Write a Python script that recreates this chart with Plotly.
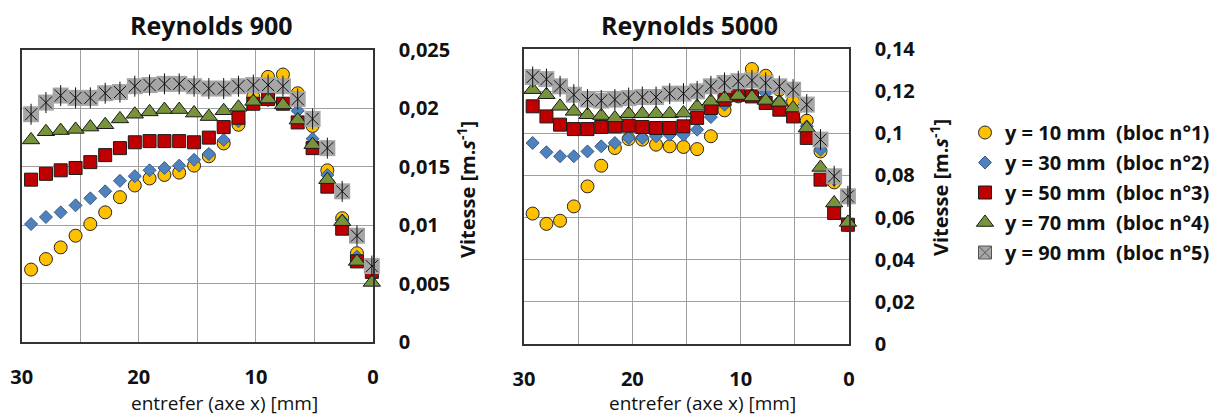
import plotly.graph_objects as go

# ---------------- data ----------------
x_mm = [29.2, 27.93, 26.67, 25.4, 24.14, 22.87, 21.61, 20.34, 19.08, 17.81, 16.55, 15.28,
        14.02, 12.75, 11.49, 10.22, 8.96, 7.69, 6.43, 5.16, 3.9, 2.63, 1.37, 0.1]

series_names = ["y = 10 mm\u00a0\u00a0(bloc n°1)", "y = 30 mm\u00a0\u00a0(bloc n°2)",
                "y = 50 mm\u00a0\u00a0(bloc n°3)", "y = 70 mm\u00a0\u00a0(bloc n°4)",
                "y = 90 mm\u00a0\u00a0(bloc n°5)"]

# Reynolds 900
re900_y10 = [0.0062, 0.0071, 0.0081, 0.0091, 0.0101, 0.0111, 0.0124, 0.0134, 0.0140, 0.0143, 0.0145, 0.0151,
             0.0159, 0.0170, 0.0186, 0.0210, 0.0227, 0.0229, 0.0213, 0.0185, 0.0147, 0.0106, 0.0076, 0.0062]
re900_y30 = [0.0101, 0.0107, 0.0111, 0.0117, 0.0123, 0.0129, 0.0138, 0.0142, 0.0147, 0.0149, 0.0151, 0.0156,
             0.0161, 0.0173, 0.0189, 0.0204, 0.0207, 0.0204, 0.0198, 0.0174, 0.0143, 0.0104, 0.0073, 0.0059]
re900_y50 = [0.0139, 0.0144, 0.0147, 0.0149, 0.0154, 0.0160, 0.0166, 0.0171, 0.0172, 0.0172, 0.0172, 0.0171,
             0.0175, 0.0184, 0.0192, 0.0204, 0.0208, 0.0204, 0.0188, 0.0166, 0.0133, 0.0097, 0.0069, 0.0060]
re900_y70 = [0.0173, 0.0180, 0.0181, 0.0182, 0.0184, 0.0186, 0.0191, 0.0195, 0.0197, 0.0199, 0.0199, 0.0196,
             0.0193, 0.0198, 0.0201, 0.0206, 0.0208, 0.0203, 0.0190, 0.0169, 0.0139, 0.0103, 0.0069, 0.0051]
re900_y90 = [0.0195, 0.0205, 0.0211, 0.0209, 0.0209, 0.0213, 0.0214, 0.0219, 0.0220, 0.0221, 0.0221, 0.0219,
             0.0217, 0.0217, 0.0219, 0.0220, 0.0220, 0.0219, 0.0208, 0.0191, 0.0166, 0.0129, 0.0091, 0.0065]

# Reynolds 5000
re5000_y10 = [0.0619, 0.0570, 0.0585, 0.0653, 0.0748, 0.0846, 0.0930, 0.0973, 0.0970, 0.0946, 0.0938, 0.0935,
              0.0925, 0.0986, 0.1109, 0.1175, 0.1305, 0.1273, 0.1207, 0.1152, 0.1060, 0.0914, 0.0767, 0.0566]
re5000_y30 = [0.0954, 0.0910, 0.0891, 0.0891, 0.0914, 0.0938, 0.0954, 0.0978, 0.0978, 0.0986, 0.0993, 0.0993,
              0.1017, 0.1077, 0.1136, 0.1175, 0.1183, 0.1191, 0.1152, 0.1112, 0.1033, 0.0922, 0.0780, 0.0566]
re5000_y50 = [0.1128, 0.1080, 0.1041, 0.1020, 0.1020, 0.1030, 0.1033, 0.1036, 0.1030, 0.1025, 0.1025, 0.1033,
              0.1073, 0.1120, 0.1160, 0.1183, 0.1175, 0.1144, 0.1112, 0.1080, 0.0978, 0.0780, 0.0622, 0.0566]
re5000_y70 = [0.1207, 0.1183, 0.1128, 0.1104, 0.1088, 0.1084, 0.1073, 0.1093, 0.1093, 0.1093, 0.1093, 0.1096,
              0.1128, 0.1152, 0.1167, 0.1179, 0.1172, 0.1156, 0.1147, 0.1120, 0.1025, 0.0838, 0.0669, 0.0577]
re5000_y90 = [0.1267, 0.1257, 0.1223, 0.1183, 0.1160, 0.1155, 0.1160, 0.1167, 0.1172, 0.1172, 0.1188, 0.1188,
              0.1199, 0.1223, 0.1239, 0.1247, 0.1251, 0.1239, 0.1223, 0.1207, 0.1136, 0.0970, 0.0796, 0.0701]

x_tickvals = [30, 25, 20, 15, 10, 5, 0]
x_ticktext = ["30", "", "20", "", "10", "", "0"]
y900_tickvals = [0, 0.005, 0.01, 0.015, 0.02, 0.025]
y900_ticktext = ["0", "0,005", "0,01", "0,015", "0,02", "0,025"]
y5000_tickvals = [0, 0.02, 0.04, 0.06, 0.08, 0.1, 0.12, 0.14]
y5000_ticktext = ["0", "0,02", "0,04", "0,06", "0,08", "0,1", "0,12", "0,14"]

# ---------------- styles ----------------
FONT = "Open Sans"
TXT = "#111111"
W, H = 1226, 416

styles = [
    dict(symbol="circle", size=13, color="#FFC000", line=dict(color="#262626", width=1)),
    dict(symbol="diamond", size=10, color="#4F81BD", line=dict(color="#385D8A", width=1)),
    dict(symbol="square", size=13, color="#C00000", line=dict(color="#1a1a1a", width=1)),
    dict(symbol="triangle-up", size=15, color="#77933C", line=dict(color="#1a1a1a", width=1)),
    dict(symbol="square", size=16, color="#A6A6A6", line=dict(color="#A6A6A6", width=0)),
]

fig = go.Figure()

panels = [
    ("x", "y", [re900_y10, re900_y30, re900_y50, re900_y70, re900_y90]),
    ("x2", "y2", [re5000_y10, re5000_y30, re5000_y50, re5000_y70, re5000_y90]),
]

for p, (xa, ya, data) in enumerate(panels):
    for i, vals in enumerate(data):
        st = styles[i]
        fig.add_trace(go.Scatter(
            x=x_mm, y=vals, mode="markers", xaxis=xa, yaxis=ya,
            name=series_names[i], legendgroup=f"g{i}", showlegend=(p == 0 and i < 4),
            marker=dict(symbol=st["symbol"], size=st["size"], color=st["color"], line=st["line"]),
            cliponaxis=False,
        ))
        if i == 4:
            for sym, sz in [("x-thin-open", 12), ("line-ns-open", 15)]:
                fig.add_trace(go.Scatter(
                    x=x_mm, y=vals, mode="markers", xaxis=xa, yaxis=ya,
                    name=series_names[i], legendgroup=f"g{i}", showlegend=False,
                    marker=dict(symbol=sym, size=sz, color="#111111",
                                line=dict(color="#111111", width=1)),
                    cliponaxis=False,
                ))
            if p == 0:
                # legend-only entry for the star series (no data of its own)
                fig.add_trace(go.Scatter(
                    x=[None], y=[None], mode="markers", xaxis=xa, yaxis=ya,
                    name=series_names[i], legendgroup=f"g{i}", showlegend=True,
                    marker=dict(symbol="square-x", size=13, color="#A6A6A6",
                                line=dict(color="#555555", width=1)),
                ))

def px_x(v):
    return v / W

def px_y(v):
    return 1 - v / H

frame_col = "#333333"
grid_major = "#A0A0A0"

def xaxis_cfg(l, r, anchor):
    return dict(domain=[px_x(l), px_x(r)], range=[30, 0], anchor=anchor,
                tickmode="array", tickvals=x_tickvals, ticktext=x_ticktext,
                showgrid=True, gridcolor=grid_major, gridwidth=1,
                showline=True, linecolor=frame_col, linewidth=1.5, mirror=True,
                ticks="", zeroline=False, ticklabelstandoff=16, automargin=False,
                tickfont=dict(family=FONT, size=20, color=TXT, weight="bold"))

def yaxis_cfg(t, b, anchor, rng, tv, tt):
    return dict(domain=[px_y(b), px_y(t)], range=rng, anchor=anchor, side="right",
                tickmode="array", tickvals=tv, ticktext=tt,
                showgrid=True, gridcolor=grid_major, gridwidth=1,
                showline=True, linecolor=frame_col, linewidth=1.5, mirror=True,
                ticks="", zeroline=False, ticklabelstandoff=20, automargin=False,
                tickfont=dict(family=FONT, size=20, color=TXT, weight="bold"))

fig.update_layout(
    width=W, height=H,
    margin=dict(l=0, r=0, t=0, b=0, pad=0, autoexpand=False),
    paper_bgcolor="white", plot_bgcolor="white",
    xaxis=xaxis_cfg(21.7, 373, "y"),
    yaxis=yaxis_cfg(50, 342, "x", [0, 0.025], y900_tickvals, y900_ticktext),
    xaxis2=xaxis_cfg(524, 849, "y2"),
    yaxis2=yaxis_cfg(49, 344, "x2", [0, 0.14], y5000_tickvals, y5000_ticktext),
    legend=dict(x=px_x(965), y=px_y(113), xanchor="left", yanchor="top",
                traceorder="grouped", tracegroupgap=1,
                font=dict(family=FONT, size=20, color=TXT, weight="bold"),
                bgcolor="rgba(0,0,0,0)", itemwidth=30),
    showlegend=True,
)

for txt, xc in [("Reynolds 900", 211), ("Reynolds 5000", 689)]:
    fig.add_annotation(xref="paper", yref="paper", x=px_x(xc), y=px_y(25), text=txt,
                       showarrow=False, xanchor="center", yanchor="middle",
                       font=dict(family=FONT, size=25, color=TXT, weight="bold"))

for xc, yc in [(467, 190), (940, 188)]:
    fig.add_annotation(xref="paper", yref="paper", x=px_x(xc), y=px_y(yc),
                       text="Vitesse [m.<i>s</i><sup>-1</sup>]", textangle=-90,
                       showarrow=False, xanchor="center", yanchor="middle",
                       font=dict(family=FONT, size=20, color=TXT, weight="bold"))

for xc in [224, 702]:
    fig.add_annotation(xref="paper", yref="paper", x=px_x(xc), y=px_y(403),
                       text="entrefer (axe x) [mm]", showarrow=False,
                       xanchor="center", yanchor="middle",
                       font=dict(family=FONT, size=19, color=TXT))

fig.write_html("out.html",
               config={"displayModeBar": False},
               post_script="document.body.style.margin='0';document.body.style.padding='0';")
